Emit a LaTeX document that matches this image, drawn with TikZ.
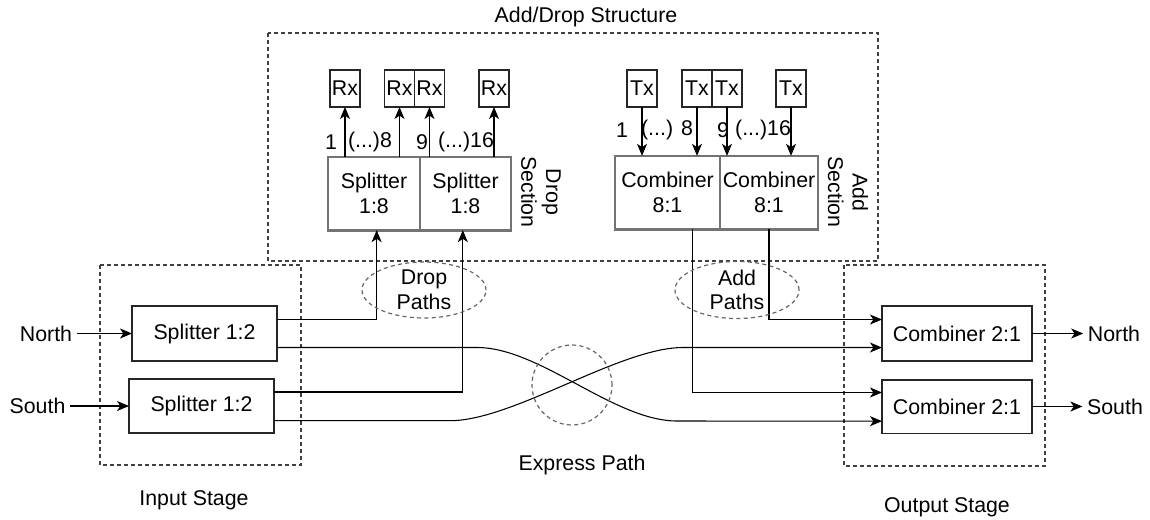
\documentclass[tikz,border=0pt]{standalone}
\usepackage{fontspec}
\setmainfont{Liberation Sans}
\usetikzlibrary{arrows.meta, positioning, shapes.geometric}
\tikzset{box/.style={rectangle,draw=black!85,line width=1pt,align=center,inner sep=0pt,outer sep=0pt},portbox/.style={box,line width=1.2pt,minimum width=22.5pt,minimum height=27.75pt},secbox/.style={box,draw=black!55,line width=2pt,minimum height=55pt},region/.style={draw=black!75,line width=0.9pt,dash pattern=on 3pt off 2.25pt},pathsel/.style={ellipse,draw=black!60,line width=0.9pt,dash pattern=on 3pt off 2.5pt,align=center,minimum width=93pt,minimum height=40.5pt,inner sep=0pt},line/.style={-{Stealth[length=9pt,width=7.5pt,inset=2.5pt]},line width=0.8pt}}

\begin{document}
\begin{tikzpicture}[x=0.75pt,y=-0.75pt,font=\fontsize{16}{18.5}\selectfont]
\useasboundingbox (0,0) rectangle (1150,519);
\draw[region] (268,33) rectangle (878,261);
\draw[region] (100,265) rectangle (301,465);
\draw[region] (844,265) rectangle (1045,466);
\node (adlbl) at (586,17) {Add/Drop Structure};
\node (inlbl) at (194,500) {Input Stage};
\node (outlbl) at (947,507) {Output Stage};
\node (explbl) at (582,465) {Express Path};
\node[secbox,minimum width=69pt] (sp8a) at (374,193.5) {Splitter\\1:8};
\node[secbox,minimum width=68.25pt,right=0pt of sp8a] (sp8b) {Splitter\\1:8};
\node[portbox] (rx1) at (345,88.5) {Rx};
\node[portbox] (rx2) at (399.5,88.5) {Rx};
\node[portbox,right=0pt of rx2] (rx3) {Rx};
\node[portbox] (rx4) at (494,88.5) {Rx};
\foreach \r in {rx1,rx2,rx3,rx4} \draw[line] (\r.south |- sp8a.north) -- (\r.south);
\node at (331,142) {1};
\node at (370,142) {(...)8};
\node at (422,142) {9};
\node at (466,142) {(...)16};
\node[rotate=-90,align=center] (dropsec) at (541,192) {Drop\\Section};
\node[secbox,minimum width=78.75pt] (cb8a) at (667.5,192.5) {Combiner\\8:1};
\node[secbox,minimum width=73.5pt,right=0pt of cb8a] (cb8b) {Combiner\\8:1};
\node[portbox] (tx1) at (642,88.5) {Tx};
\node[portbox] (tx2) at (697,88.5) {Tx};
\node[portbox,right=0pt of tx2] (tx3) {Tx};
\node[portbox] (tx4) at (791,88.5) {Tx};
\foreach \t in {tx1,tx2,tx3,tx4} \draw[line] (\t.south) -- (\t.south |- cb8a.north);
\node at (622,130) {1};
\node at (667,130) {(...) 8};
\node at (723,130) {9};
\node at (763,130) {(...)16};
\node[rotate=-90,align=center] (addsec) at (848,192) {Add\\Section};
\node[box,minimum width=108.75pt,minimum height=41.25pt] (spN) at (204.5,333.5) {Splitter 1:2};
\node[box,minimum width=108.75pt,minimum height=40.5pt] (spS) at (201.5,406) {Splitter 1:2};
\node (inN) at (46,333.5) {North};
\node (inS) at (37.5,406) {South};
\draw[line] (inN) -- (spN);
\draw[line] (inS) -- (spS);
\node[box,minimum width=112.5pt,minimum height=41.25pt] (cbN) at (957,333.5) {Combiner 2:1};
\node[box,minimum width=112.5pt,minimum height=40pt] (cbS) at (957,406.5) {Combiner 2:1};
\node (outN) at (1114,333.5) {North};
\node (outS) at (1115,406.5) {South};
\draw[line] (cbN) -- (outN);
\draw[line] (cbS) -- (outS);
\draw[line] ([yshift=10.5pt]spN.east) -| ([xshift=2pt]sp8a.south);
\draw[line] ([yshift=10.5pt]spS.east) -| ([xshift=-2pt]sp8b.south);
\draw[line] ([xshift=19pt]cb8a.south) |- ([yshift=10.5pt]cbS.west);
\draw[line] (cb8b.south) |- ([yshift=10.5pt]cbN.west);
\draw[line] ([yshift=-10.5pt]spN.east) -- (477,347.5) .. controls (540,347.5) and (614,421) .. (677,421) -- ([yshift=-11pt]cbS.west);
\draw[line] ([yshift=-11pt]spS.east) -- (450,420.7) .. controls (513,420.7) and (620,347.5) .. (683,347.5) -- ([yshift=-10.5pt]cbN.west);
\node[pathsel] (dropp) at (424,290) {Drop\\Paths};
\node[pathsel] (addp) at (737,290) {Add\\Paths};
\node[circle,draw=black!60,line width=0.9pt,dash pattern=on 3pt off 2.5pt,minimum size=60pt] (expc) at (572,385) {};
\end{tikzpicture}
\end{document}
